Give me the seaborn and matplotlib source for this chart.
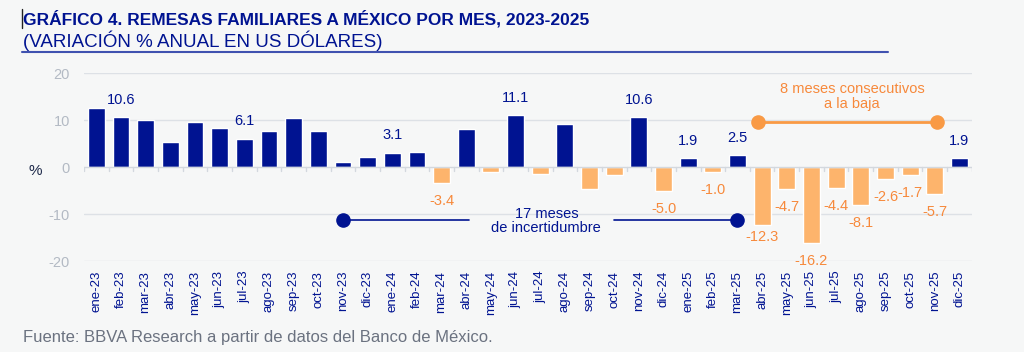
import numpy as np
import pandas as pd
import seaborn as sns
import matplotlib.pyplot as plt

# datos: variación % anual de remesas (US dólares)
meses = ["ene-23", "feb-23", "mar-23", "abr-23", "may-23", "jun-23", "jul-23", "ago-23",
         "sep-23", "oct-23", "nov-23", "dic-23",
         "ene-24", "feb-24", "mar-24", "abr-24", "may-24", "jun-24", "jul-24", "ago-24",
         "sep-24", "oct-24", "nov-24", "dic-24",
         "ene-25", "feb-25", "mar-25", "abr-25", "may-25", "jun-25", "jul-25", "ago-25",
         "sep-25", "oct-25", "nov-25", "dic-25"]
variacion = [12.7, 10.6, 10.0, 5.4, 9.6, 8.4, 6.1, 7.8, 10.5, 7.6, 1.1, 2.1,
             3.1, 3.3, -3.4, 8.2, -1.1, 11.1, -1.4, 9.2, -4.6, -1.6, 10.6, -5.0,
             1.9, -1.0, 2.5, -12.3, -4.7, -16.2, -4.4, -8.1, -2.6, -1.7, -5.7, 1.9]
# meses con etiqueta de valor
etiquetados = ["feb-23", "jul-23", "ene-24", "mar-24", "jun-24", "nov-24", "dic-24",
               "ene-25", "feb-25", "mar-25", "abr-25", "may-25", "jun-25", "jul-25",
               "ago-25", "sep-25", "oct-25", "nov-25", "dic-25"]
# anotaciones de periodos
incertidumbre = ("nov-23", "mar-25")
baja = ("abr-25", "nov-25")

AZUL = "#001391"
NARANJA = "#FDB46C"
NARANJA_TXT = "#F7893B"
GRIS = "#B3BAC4"
FONDO = "#F6F7F7"

df = pd.DataFrame({"mes": meses, "valor": variacion})
df["signo"] = np.where(df["valor"] >= 0, "pos", "neg")

sns.set_style("white")
plt.rcParams["font.family"] = ["Liberation Sans", "DejaVu Sans"]
plt.rcParams["axes.unicode_minus"] = False

fig = plt.figure(figsize=(10.24, 3.52), dpi=100, facecolor=FONDO)
ax = fig.add_axes([0.082, 0.2585, 0.867, 0.5333])
ax.set_facecolor(FONDO)

sns.barplot(data=df, x="mes", y="valor", hue="signo", palette={"pos": AZUL, "neg": NARANJA},
            dodge=False, width=0.68, legend=False, ax=ax, saturation=1)

ax.set_xlim(-0.5, len(meses) - 0.5)
ax.set_ylim(-20, 20)
ax.set_yticks([-20, -10, 0, 10, 20])
for y in [-20, -10, 10, 20]:
    ax.axhline(y, color="#DDE1E6", lw=1, zorder=0)
ax.axhline(0, color="#D3D8DE", lw=1, zorder=3)
for b in np.arange(len(meses) + 1) - 0.5:
    ax.plot([b, b], [0, -0.8], color="#D3D8DE", lw=1, zorder=3)

for s in ax.spines.values():
    s.set_visible(False)
ax.tick_params(axis="y", length=0, pad=10, labelsize=10.5, labelcolor=GRIS)
ax.tick_params(axis="x", length=0, pad=7, labelsize=9.5, labelcolor=AZUL, rotation=90)
ax.set_xlabel("")
ax.set_ylabel("")
ax.text(-0.055, 0.48, "%", transform=ax.transAxes, fontsize=11, color="#1E2A4A",
        ha="center", va="center")

# etiquetas de valor
for i, (m, v) in enumerate(zip(meses, variacion)):
    if m not in etiquetados:
        continue
    if v >= 0:
        ax.annotate(f"{v:.1f}", (i, v), xytext=(0, 12.5), textcoords="offset points",
                    ha="center", va="center", fontsize=10.5, color=AZUL)
    else:
        off = -9 if m == "abr-25" else -13
        ax.annotate(f"{v:.1f}", (i, v), xytext=(0, off), textcoords="offset points",
                    ha="center", va="center", fontsize=10.5, color=NARANJA_TXT,
                    annotation_clip=False)

# 17 meses de incertidumbre
x0, x1 = meses.index(incertidumbre[0]), meses.index(incertidumbre[1])
yl = -11.3
ax.plot([x0, 15.1], [yl, yl], color=AZUL, lw=1.2)
ax.plot([21.0, x1], [yl, yl], color=AZUL, lw=1.2)
ax.scatter([x0, x1], [yl, yl], s=90, color=AZUL, zorder=5)
ax.text(18.25, -11.5, "17 meses\nde incertidumbre", ha="center", va="center",
        fontsize=10.5, color=AZUL, linespacing=1.05)

# 8 meses consecutivos a la baja
b0, b1 = meses.index(baja[0]), meses.index(baja[1])
yo = 9.6
ax.plot([b0 - 0.17, b1 + 0.09], [yo, yo], color="#F99A45", lw=2)
ax.scatter([b0 - 0.17, b1 + 0.09], [yo, yo], s=90, color="#F99A45", zorder=5)
ax.text(30.65, 15.0, "8 meses consecutivos\na la baja", ha="center", va="center",
        fontsize=10.5, color=NARANJA_TXT, linespacing=1.05)

# titulo, subtitulo y fuente
fig.text(0.0225, 0.948, "GRÁFICO 4. REMESAS FAMILIARES A MÉXICO POR MES, 2023-2025",
         fontsize=12.5, fontweight="bold", color=AZUL, va="center", ha="left")
fig.text(0.0225, 0.884, "(VARIACIÓN % ANUAL EN US DÓLARES)",
         fontsize=13.5, color=AZUL, va="center", ha="left")
fig.add_artist(plt.Line2D([0.0215, 0.867], [0.853, 0.853], color="#4052B0", lw=1.5))
fig.add_artist(plt.Line2D([0.0215, 0.0215], [0.92, 0.975], color="#222222", lw=1))
fig.text(0.0225, 0.04, "Fuente: BBVA Research a partir de datos del Banco de México.",
         fontsize=12, color="#6B7280", va="center", ha="left")

fig.savefig("out.png", dpi=100, facecolor=FONDO)
